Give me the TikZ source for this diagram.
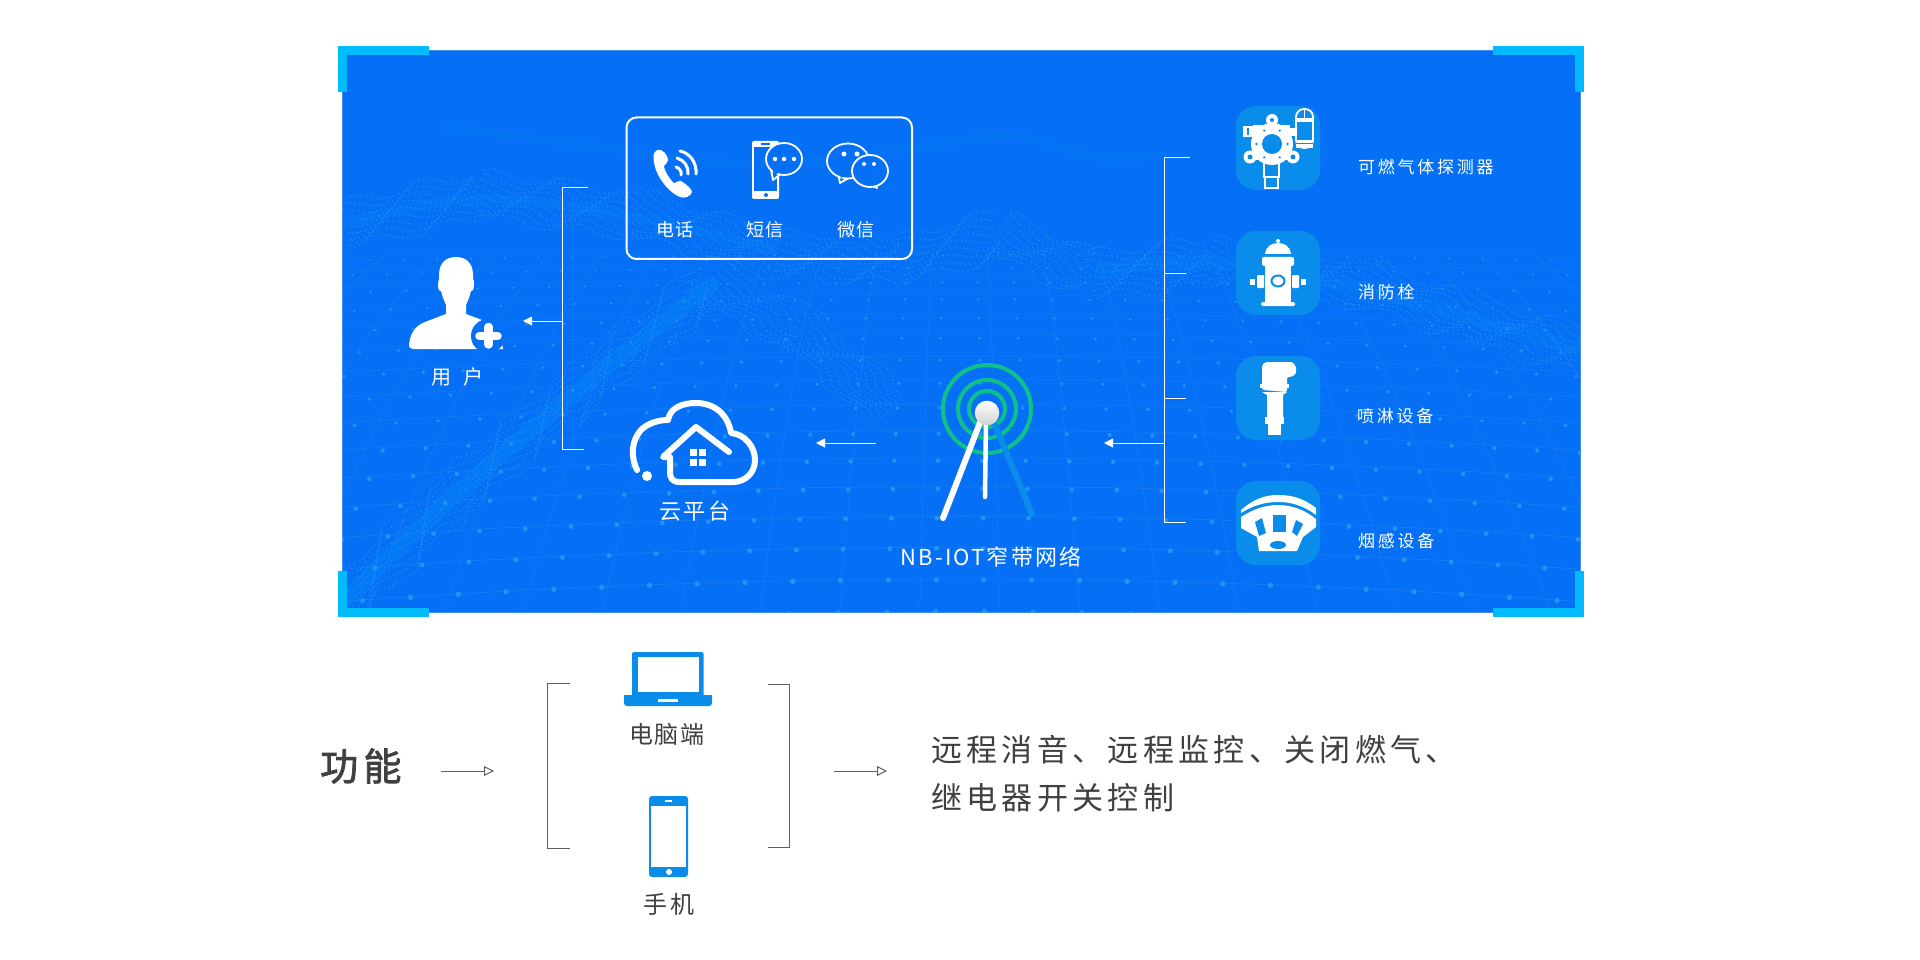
\documentclass[tikz,border=0pt]{standalone}
\usepackage{xcolor}
\usepackage{fontspec}
\setmainfont{Noto Sans CJK SC}
\usetikzlibrary{calc}
\usetikzlibrary{arrows.meta}
\definecolor{panelblue}{HTML}{0570F5}
\definecolor{panelrim}{HTML}{3D8FF0}
\definecolor{tileblue}{HTML}{0A8CEB}
\definecolor{cornercyan}{HTML}{00BCFF}
\definecolor{signalgreen}{HTML}{10C08A}
\definecolor{darktext}{HTML}{404040}
\definecolor{darkline}{HTML}{606060}
\definecolor{meshline}{HTML}{2A84F7}
\definecolor{meshdot}{HTML}{2093F5}
\definecolor{ribbondot}{HTML}{1F90F5}
\newcommand{\lblsize}[2]{\fontsize{#1}{#1}\selectfont\addfontfeature{LetterSpace=#2}}
\newcommand{\ribbonseg}[4]{%
  \pgfmathtruncatemacro{\rn}{veclen(#3-#1,#4-#2)/4}%
  \pgfmathsetmacro{\nx}{-(#4-#2)/veclen(#3-#1,#4-#2)}%
  \pgfmathsetmacro{\ny}{(#3-#1)/veclen(#3-#1,#4-#2)}%
  \foreach \k in {0,...,\rn}{\foreach \b in {-4,...,4}{%
    \pgfmathsetmacro{\off}{\b*5.5+5*sin(\k*19+\b*35)}%
    \pgfmathsetmacro{\rx}{#1+(#3-#1)*\k/(\rn+1)+\nx*\off+2*sin(\k*47+\b*83)}%
    \pgfmathsetmacro{\ry}{#2+(#4-#2)*\k/(\rn+1)+\ny*\off}%
    \fill[ribbondot] (\rx,\ry) circle (0.8);%
  }}}
\tikzset{
  declare function={
    meshx(\uu,\vv)=960+(\uu-0.5)*(1300+700*\vv);
    meshy(\uu,\vv)=240+372*\vv*sqrt(\vv)+60*(2*\uu-1)*(2*\uu-1)*\vv;
  },
  whitelbl/.style={text=white,inner sep=0pt},
  darklbl/.style={text=darktext,inner sep=0pt},
  cornermark/.style={draw=cornercyan,line width=9pt,line join=miter},
  whiteline/.style={draw=white,line width=1pt},
  whitearrow/.style={draw=white,line width=1pt,-{Triangle[length=9pt,width=9pt,fill=white]}},
  darkline/.style={draw=darkline,line width=1pt},
  darkarrow/.style={draw=darkline,line width=1pt,-{Triangle[open,length=10pt,width=10pt,fill=white]}},
  tilebox/.style={fill=tileblue,rounded corners=20pt},
  thinicon/.style={draw=white,line width=1.8pt,fill=panelblue},
  detector/.style={draw=white,line width=1.8pt,fill=tileblue}
}
\begin{document}
\begin{tikzpicture}[x=1pt,y=-1pt]
\useasboundingbox (0,0) rectangle (1920,960);
\fill[white] (0,0) rectangle (1920,960);

% Drawing panel
\fill[panelblue] (342,51) rectangle (1580,612);
\begin{scope}
\clip (342,51) rectangle (1580,612);
% Drawing bands
\draw[cornercyan,opacity=0.12,line width=16pt,line cap=round] plot[smooth] coordinates {(345,600) (460,490) (620,356) (711,285)};
\draw[cornercyan,opacity=0.08,line width=10pt,line cap=round] plot[smooth] coordinates {(340,225) (458,200) (600,210) (775,250)};
\draw[cornercyan,opacity=0.06,line width=8pt,line cap=round] plot[smooth] coordinates {(443,126) (577,144) (760,165) (917,147) (1012,136) (1099,158) (1162,155)};
\draw[cornercyan,opacity=0.08,line width=14pt,line cap=round] plot[smooth] coordinates {(1100,270) (1210,262) (1368,290) (1580,350)};
% Drawing mesh
\foreach \v in {0.1,0.16,...,1.02}{%
  \pgfmathsetmacro{\op}{0.2+0.6*\v}%
  \draw[meshline,line width=0.5pt,opacity=\op] plot[domain=0:1,samples=25] ({meshx(\x,\v)},{meshy(\x,\v)});
}
\foreach \u in {0,0.04,...,1.01}
  \draw[meshline,line width=0.5pt,opacity=0.55] plot[variable=\w,domain=0.1:1,samples=12] ({meshx(\u,\w)},{meshy(\u,\w)});
\foreach \u in {0,...,41}{\foreach \v in {2,...,17}{%
  \pgfmathsetmacro{\mx}{meshx(\u/41,\v/17)}%
  \pgfmathsetmacro{\my}{meshy(\u/41,\v/17)}%
  \pgfmathsetmacro{\mr}{0.8+2.0*\v/17}%
  \fill[meshdot] (\mx,\my) circle (\mr);%
}}
% Drawing ribbons
\foreach \xa/\ya/\xb/\yb in {345/600/460/490,460/490/620/356,620/356/711/285,711/285/800/330,800/330/893/410,
    345/225/480/195,480/195/640/215,640/215/775/255,775/255/900/260,900/260/1000/235,
    1000/235/1090/275,1090/275/1210/262,1210/262/1368/285,1368/285/1470/320,1470/320/1580/350}
  \ribbonseg{\xa}{\ya}{\xb}{\yb};
\end{scope}
\draw[panelrim,line width=1pt] (342,51) rectangle (1580,612);

% Drawing corners
\draw[cornermark] (429,50.5) -- (342.5,50.5) -- (342.5,92);
\draw[cornermark] (1493,50.5) -- (1579.5,50.5) -- (1579.5,92);
\draw[cornermark] (1493,612.5) -- (1579.5,612.5) -- (1579.5,571);
\draw[cornermark] (429,612.5) -- (342.5,612.5) -- (342.5,571);

% Drawing contact box
\draw[white,line width=2pt,rounded corners=10pt] (626.5,117.5) rectangle (912,259);

% Drawing handset
\fill[white] (657,150) .. controls (652,152) and (653,162) .. (656,170) .. controls (660,181) and (670,193) .. (680,197)
  .. controls (685,199) and (691,196) .. (692,192) .. controls (692,189) and (686,184) .. (681,181)
  .. controls (679,180) and (676,183) .. (674,183) .. controls (670,180) and (664,170) .. (664,166)
  .. controls (665,164) and (668,163) .. (668,160) .. controls (668,156) and (663,148) .. (657,150) -- cycle;
\draw[white,line width=3pt,line cap=round] (680,151) .. controls (690,153) and (697,163) .. (696,174);
\draw[white,line width=3pt,line cap=round] (677,158) .. controls (684,160) and (689,167) .. (688,174);
\draw[white,line width=3pt,line cap=round] (676,167) .. controls (679,168) and (682,171) .. (681,175);

% Drawing mobile with bubble
\fill[white,rounded corners=2pt] (752,141) rectangle (779,199);
\fill[panelblue] (754,147) rectangle (777,191);
\fill[panelblue] (761,143) rectangle (770,145);
\fill[panelblue] (766,195) circle (2);
\draw[thinicon,line join=round] (771,170) -- (773,180) -- (782,173);
\draw[thinicon] (784,159) ellipse (18 and 16);
\fill[panelblue] (772,166) -- (774,176) -- (782,170) -- cycle;
\foreach \xx in {775,784,794} \fill[white] (\xx,159) circle (2.2);

% Drawing chat bubbles
\draw[thinicon,line join=round] (838,174) -- (840,183) -- (852,176);
\draw[thinicon] (848,161) ellipse (21 and 17.5);
\fill[panelblue] (839,170) -- (841,178) -- (851,172) -- cycle;
\draw[thinicon,line join=round] (868,184) -- (877,188) -- (876,182);
\draw[thinicon] (870,171) ellipse (18 and 16);
\fill[panelblue] (869,180) -- (875,184) -- (875,179) -- cycle;
\foreach \xx in {844,857} \fill[white] (\xx,154) circle (2.5);
\foreach \xx in {864,874} \fill[white] (\xx,164) circle (2);

% Drawing contact labels
\node[whitelbl] (lblcall) at (675,230) {\lblsize{18}{8}电话};
\node[whitelbl] (lblsms) at (765,230) {\lblsize{18}{8}短信};
\node[whitelbl] (lblwechat) at (856,230) {\lblsize{18}{8}微信};

% Drawing user
\fill[white] (413,349) .. controls (410,349) and (409,347) .. (409,345) .. controls (410,335) and (414,326) .. (425,322)
  -- (446,314) -- (446,305) -- (443,298) -- (441,291) .. controls (438,291) and (438,287) .. (438,284)
  .. controls (438,281) and (439,280) .. (439,279) -- (439,275)
  .. controls (439,262) and (447,257) .. (456,257) .. controls (465,257) and (473,262) .. (473,275)
  -- (473,279) .. controls (474,280) and (474,281) .. (474,284) .. controls (474,287) and (474,291) .. (471,291)
  -- (469,298) -- (466,305) -- (466,314) -- (482,320) .. controls (495,328) and (502,338) .. (503,349) -- cycle;
\fill[panelblue] (488,336) circle (17);
\draw[white,line width=8.5pt,line cap=round] (479.5,336) -- (497.5,336);
\draw[white,line width=8.5pt,line cap=round] (488.5,327) -- (488.5,344.5);
\node[whitelbl] (lbluser) at (457,377) {\lblsize{20}{60}用户};

% Drawing cloud
\draw[white,line width=6pt,line cap=round,line join=round] (637,470) .. controls (630,455) and (632,440) .. (641,430)
  .. controls (648,423) and (659,420) .. (668,420) .. controls (670,408) and (682,403) .. (696,403)
  .. controls (715,403) and (728,415) .. (731,433) .. controls (745,434) and (755,447) .. (755,460)
  .. controls (755,473) and (745,482) .. (733,482) -- (680,482) .. controls (672,482) and (670,478) .. (670,472)
  -- (670,457) -- (663,457) -- (696,427) -- (729,452);
\fill[white] (647,476) circle (5);
\foreach \xx in {690,699} \foreach \yy in {449,459} \fill[white] (\xx,\yy) rectangle ++(6.5,7);
\node[whitelbl] (lblcloud) at (695,511) {\lblsize{22}{12}云平台};

% Drawing antenna
\foreach \rr in {44,29,18} \draw[signalgreen,line width=4pt] (987,409) circle (\rr);
\draw[tileblue,line width=6pt,line cap=round] (995,425) -- (1032,514);
\draw[white,line width=6pt,line cap=round] (981,420) -- (943,518);
\draw[white,line width=4.5pt,line cap=round] (986,420) -- (985,497);
\shade[top color=white,bottom color=black!18] (987,413) circle (12.3);
\node[whitelbl] (lblnb) at (991,557) {\lblsize{22}{10}NB-IOT窄带网络};

% Drawing device tiles
\foreach \yy in {106,231,356,481} \fill[tilebox] (1236,\yy) rectangle ++(84,84);

% Drawing gas detector
\draw[detector] (1264,163) rectangle (1279,177);
\draw[detector] (1265,177) rectangle (1278,188);
\fill[white] (1243,126) rectangle (1253,137);
\fill[tileblue] (1247,128) rectangle (1248.5,135);
\fill[white] (1253,125) rectangle (1290,138);
\fill[white] (1290,128) rectangle (1297,136);
\fill[white] (1272,120) circle (6);
\fill[tileblue] (1272,120) circle (2);
\draw[white,line width=7pt,line join=round] (1250,157) -- (1293,157);
\fill[white] (1250,157) circle (6.5);
\fill[white] (1293,157) circle (6.5);
\fill[tileblue] (1250,157) circle (2.5);
\fill[tileblue] (1293,157) circle (2.5);
\fill[white] (1272,144) circle (21);
\fill[tileblue] (1272,144) circle (10);
\foreach \aa in {0,60,...,300} \fill[tileblue] ($(1272,144)+(\aa:15.5)$) circle (1.3);
\draw[detector,rounded corners=8pt] (1296,148) -- (1296,109) -- (1313,109) -- (1313,148) -- cycle;
\fill[white] (1296,118) rectangle (1313,122);
\draw[white,line width=1.5pt] (1304.5,109) -- (1304.5,120);
\fill[white] (1296,140) rectangle (1313,148);
\fill[tileblue] (1296,143) rectangle (1313,144);

% Drawing hydrant
\fill[white] (1265,254) .. controls (1266,246) and (1272,243) .. (1278,243) .. controls (1284,243) and (1290,246) .. (1291,254) -- cycle;
\fill[white] (1278,241) circle (2);
\fill[white,rounded corners=2pt] (1262,257) rectangle (1294,266);
\fill[white] (1265,266) rectangle (1291,302);
\fill[white,rounded corners=1.5pt] (1261,302) rectangle (1295,306);
\fill[white,rounded corners=1pt] (1257,275) rectangle (1264,288);
\fill[white,rounded corners=1pt] (1292,275) rectangle (1299,288);
\fill[white] (1250,279) rectangle (1255,285);
\fill[white] (1301,279) rectangle (1306,285);
\draw[tileblue,line width=2pt] (1278,281) ellipse (6.5 and 5.5);

% Drawing sprinkler
\fill[white,rounded corners=2pt] (1262,390) -- (1262,365) -- (1265,362) -- (1289,362) .. controls (1293,362) and (1296,366) .. (1296,370)
  .. controls (1296,374) and (1293,377) .. (1287,377) -- (1287,392) -- cycle;
\fill[white] (1260,384) rectangle (1289,388);
\fill[white] (1262,392) -- (1287,392) -- (1283,395) -- (1283,417) -- (1267,417) -- (1267,395) -- cycle;
\fill[white] (1265,417) rectangle (1284,424);
\fill[white] (1268,424) rectangle (1281,435);

% Drawing smoke sensor
\fill[white] (1241,510) .. controls (1255,498) and (1266,495) .. (1278,495) .. controls (1292,495) and (1303,498) .. (1316,508)
  -- (1316,515) .. controls (1303,505) and (1290,502) .. (1278,502) .. controls (1264,502) and (1252,506) .. (1241,513) -- cycle;
\fill[white] (1241,517) .. controls (1252,510) and (1264,505) .. (1278,505) .. controls (1292,505) and (1305,510) .. (1316,519)
  -- (1316,527) -- (1303,537) -- (1297,551) -- (1259,551) -- (1257,537) -- (1241,528) -- cycle;
\fill[tileblue] (1273,515) rectangle (1286,532);
\fill[tileblue] (1255,522) -- (1262,518) -- (1266,533) -- (1259,536) -- cycle;
\fill[tileblue] (1296,520) -- (1303,524) -- (1297,536) -- (1292,532) -- cycle;
\fill[tileblue] (1278,545) ellipse (8 and 4);

% Drawing device labels
\node[whitelbl,anchor=west] (lblgas) at (1358,167) {\lblsize{17}{16}可燃气体探测器};
\node[whitelbl,anchor=west] (lblhydrant) at (1358,292) {\lblsize{17}{16}消防栓};
\node[whitelbl,anchor=west] (lblsprinkler) at (1357,416) {\lblsize{17}{16}喷淋设备};
\node[whitelbl,anchor=west] (lblsmoke) at (1358,541) {\lblsize{17}{16}烟感设备};

% Drawing connectors of panel
\coordinate (usertop) at (562,188);
\coordinate (usertopin) at (588,188);
\coordinate (userbot) at (562,449);
\coordinate (userbotin) at (584,449);
\coordinate (userjoin) at (562,321);
\coordinate (usertip) at (523,321);
\draw[whiteline] (usertopin) -- (usertop) -- (userbot) -- (userbotin);
\draw[whitearrow] (userjoin) -- (usertip);
\coordinate (cloudfrom) at (876,443);
\coordinate (cloudtip) at (816,443);
\draw[whitearrow] (cloudfrom) -- (cloudtip);
\coordinate (devtop) at (1164,158);
\coordinate (devtopin) at (1190,158);
\coordinate (devbot) at (1164,522);
\coordinate (devbotin) at (1186,522);
\coordinate (devsecond) at (1164,273);
\coordinate (devsecondin) at (1186,273);
\coordinate (devthird) at (1164,398);
\coordinate (devthirdin) at (1186,398);
\coordinate (devjoin) at (1164,443);
\coordinate (devtip) at (1104,443);
\draw[whiteline] (devtopin) -- (devtop) -- (devbot) -- (devbotin);
\draw[whiteline] (devsecond) -- (devsecondin);
\draw[whiteline] (devthird) -- (devthirdin);
\draw[whitearrow] (devjoin) -- (devtip);

% Drawing lower row
\node[darklbl,anchor=west] (lblfunc) at (320,766) {\lblsize{38}{14}\addfontfeature{FakeBold=2}功能};
\coordinate (funcfrom) at (441,771);
\coordinate (functip) at (494,771);
\draw[darkarrow] (funcfrom) -- (functip);
\coordinate (lefttopin) at (570,683);
\coordinate (lefttop) at (547.5,683);
\coordinate (leftbot) at (547.5,848);
\coordinate (leftbotin) at (570,848);
\draw[darkline] (lefttopin) -- (lefttop) -- (leftbot) -- (leftbotin);
\coordinate (righttopin) at (768,684);
\coordinate (righttop) at (789,684);
\coordinate (rightbot) at (789,847);
\coordinate (rightbotin) at (768,847);
\draw[darkline] (righttopin) -- (righttop) -- (rightbot) -- (rightbotin);
\coordinate (resultfrom) at (834,771);
\coordinate (resulttip) at (887,771);
\draw[darkarrow] (resultfrom) -- (resulttip);

% Drawing laptop
\fill[tileblue,rounded corners=2pt] (632,652) rectangle (703.5,697);
\fill[white] (637.5,657) rectangle (698.5,692);
\fill[tileblue,rounded corners=3pt] (624,695) rectangle (712,706);
\fill[tileblue] (624,695) rectangle (712,700);
\fill[white] (658,699) rectangle (678,702);
\node[darklbl] (lblpc) at (667,734) {\lblsize{24}{5}电脑端};

% Drawing handheld
\fill[tileblue,rounded corners=3pt] (649,796) rectangle (688,877);
\fill[white] (651,806) rectangle (686,867);
\fill[white] (665,800) rectangle (672,802);
\fill[white] (669,872) circle (3);
\node[darklbl] (lblmobile) at (669,904) {\lblsize{24}{10}手机};

% Drawing result text
\node[darklbl,anchor=west] (lblresulta) at (931,750) {\lblsize{31}{14}远程消音、远程监控、关闭燃气、};
\node[darklbl,anchor=west] (lblresultb) at (931,798) {\lblsize{31}{14}继电器开关控制};
\end{tikzpicture}
\end{document}
